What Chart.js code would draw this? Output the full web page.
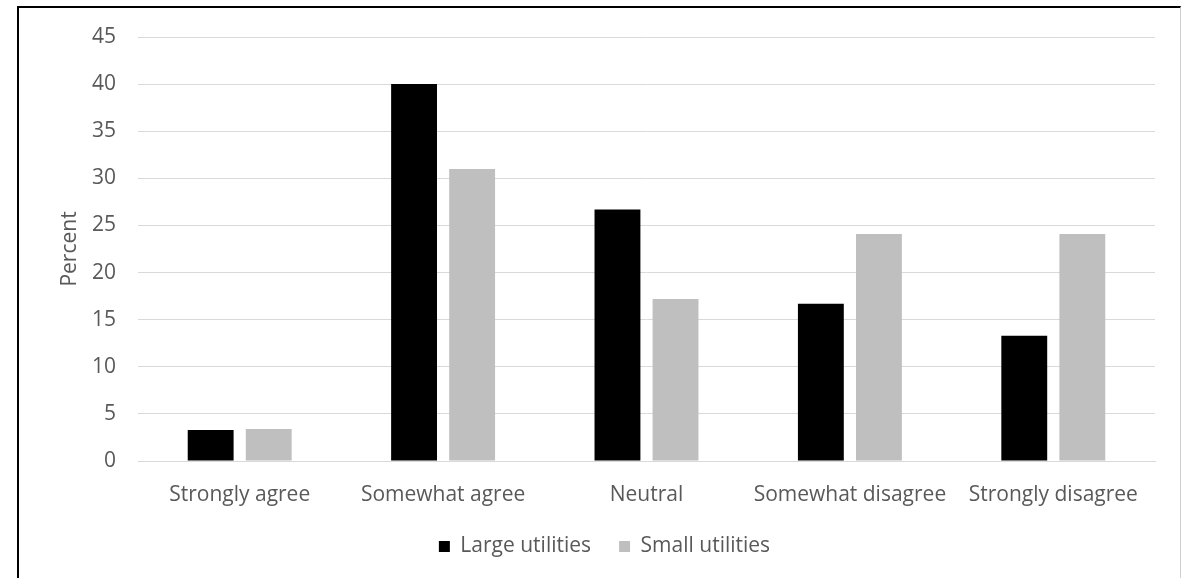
<!DOCTYPE html>
<html lang="en">
<head>
<meta charset="UTF-8">
<title>Utilities survey</title>
<script src="https://cdn.jsdelivr.net/npm/chart.js"></script>
<style>
    html, body { margin: 0; padding: 0; background: #fff; }
    .wrap { position: relative; width: 1182px; height: 578px; overflow: hidden; }
    .frame {
        position: absolute; left: 17px; top: 6px; width: 1161px; height: 600px;
        border-left: 2px solid #000; border-top: 2px solid #000; border-right: 1px solid #d0d0d0;
    }
    canvas { position: absolute; left: 0; top: 0; }
</style>
</head>
<body>
<div class="wrap">
    <div class="frame"></div>
    <canvas id="surveyChart" width="1182" height="578"></canvas>
</div>
<script>
const categories = ['Strongly agree', 'Somewhat agree', 'Neutral', 'Somewhat disagree', 'Strongly disagree'];
const largeUtilities = [3.3, 40.0, 26.7, 16.7, 13.3];
const smallUtilities = [3.4, 31.0, 17.2, 24.1, 24.1];

Chart.defaults.font.family = '"Open Sans", "Liberation Sans", sans-serif';
Chart.defaults.color = '#595959';

// legend sits centred under the frame, a bit right of the canvas centre
const legendShift = {
    id: 'legendShift',
    afterLayout(chart) {
        const lg = chart.legend;
        if (lg) { lg.left += 17; lg.right += 17; }
    }
};

const ctx = document.getElementById('surveyChart').getContext('2d');
const surveyChart = new Chart(ctx, {
    type: 'bar',
    data: {
        labels: categories,
        datasets: [{
            label: 'Large utilities',
            data: largeUtilities,
            backgroundColor: '#000000'
        }, {
            label: 'Small utilities',
            data: smallUtilities,
            backgroundColor: '#bfbfbf'
        }]
    },
    options: {
        responsive: false,
        animation: false,
        categoryPercentage: 0.571,
        barPercentage: 0.79,
        layout: { padding: { left: 20, right: 27, top: 37, bottom: 11 } },
        plugins: {
            tooltip: { enabled: false },
            legend: {
                position: 'bottom',
                labels: {
                    boxWidth: 11,
                    boxHeight: 11,
                    padding: 28,
                    font: { size: 21 },
                    color: '#595959'
                }
            }
        },
        scales: {
            x: {
                grid: { display: false },
                border: { display: true, color: '#d9d9d9', width: 1 },
                ticks: { font: { size: 21 }, padding: 13, maxRotation: 0 },
                afterFit: (scale) => { scale.height = 47; }
            },
            y: {
                min: 0,
                max: 45,
                ticks: { stepSize: 5, font: { size: 21 }, padding: 22 },
                grid: { color: '#d9d9d9', lineWidth: 1, drawTicks: false },
                border: { display: false },
                title: {
                    display: true,
                    text: 'Percent',
                    font: { size: 21 },
                    color: '#595959',
                    padding: { top: 37, bottom: 0 }
                },
                afterFit: (scale) => { scale.width = 118; }
            }
        }
    },
    plugins: [legendShift]
});
</script>
</body>
</html>
